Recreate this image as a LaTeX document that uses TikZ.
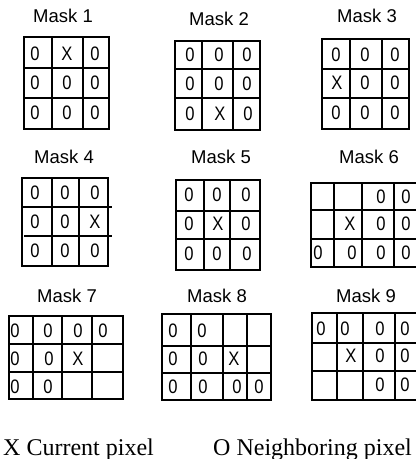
\documentclass[tikz,border=0pt]{standalone}
\usepackage{fontspec}
\setmainfont{Liberation Serif}
\setsansfont{Liberation Sans}
\newfontfamily\cellfont[FakeStretch=0.85]{Liberation Sans}
\tikzset{
  gridline/.style={line width=1.7pt, line cap=rect, draw=black},
  masklabel/.style={font=\sffamily\fontsize{18.5}{18.5}\selectfont, anchor=base, inner sep=0pt},
  cell/.style={font=\cellfont\fontsize{19.5}{19.5}\selectfont, inner sep=0pt},
  legendtext/.style={font=\rmfamily\fontsize{24}{24}\selectfont, anchor=base west, inner sep=0pt}
}
\newcommand\maskgrid[6]{%
  \draw[gridline] (#1,#3) rectangle (#2,#4);
  \foreach \xx in {#5} {\draw[gridline] (\xx,#3) -- (\xx,#4);}
  \foreach \yy in {#6} {\draw[gridline] (#1,\yy) -- (#2,\yy);}
}
\newcommand\cells[2]{%
  \foreach \px/\py/\t [count=\i] in {#2} {\node[cell] (#1c\i) at (\px,\py) {\t};}
}
\begin{document}
\begin{tikzpicture}[x=1pt,y=-1pt]
\useasboundingbox (0,0) rectangle (416,459);
\clip (0,0) rectangle (416,459);
% labels
\node[masklabel] (l1) at (63,22) {Mask 1};
\node[masklabel] (l2) at (219,25) {Mask 2};
\node[masklabel] (l3) at (367,22) {Mask 3};
\node[masklabel] (l4) at (64,163) {Mask 4};
\node[masklabel] (l5) at (221,163) {Mask 5};
\node[masklabel] (l6) at (369,163) {Mask 6};
\node[masklabel] (l7) at (67,302) {Mask 7};
\node[masklabel] (l8) at (217,302) {Mask 8};
\node[masklabel] (l9) at (366,302) {Mask 9};
% Mask 1
\maskgrid{24}{109}{37}{129}{52,83}{68,98}
\cells{m1}{35/54/0,67/54/X,95/54/0,35/83/0,67/83/0,95/83/0,35/113/0,67/113/0,95/113/0}
% Mask 2
\maskgrid{175}{260}{41}{130}{202,233}{69,98}
\cells{m2}{190/55/0,219/55/0,247/55/0,190/84/0,219/84/0,247/84/0,190/114/0,220/114/X,248/114/0}
% Mask 3
\maskgrid{322}{409}{39}{129}{350,382}{69,98}
\cells{m3}{336/55/0,365/55/0,395/55/0,337/83/X,365/83/0,395/83/0,336/113/0,365/113/0,395/113/0}
% Mask 4
\draw[gridline] (22,178) rectangle (108,266);
\draw[gridline] (52,178) -- (52,266);
\draw[gridline] (79,178) -- (79,266);
\draw[gridline] (22,207) -- (111,207);
\draw[gridline] (25,236) -- (111,236);
\cells{m4}{35/193/0,65/193/0,95/193/0,35/222/0,65/222/0,95/222/X,35/251/0,65/251/0,95/251/0}
% Mask 5
\maskgrid{176}{260}{180}{270}{204,230}{211,239}
\cells{m5}{189/195/0,217/195/0,246/195/0,189/224/0,218/224/X,246/224/0,189/254/0,217/254/0,247/254/0}
% Mask 6
\maskgrid{311}{424}{183}{267}{334,362,394}{210,239}
\cells{m6}{381/197/0,406/197/0,350/224/X,381/224/0,406/224/0,318/253/0,352/253/0,381/253/0,406/253/0}
% Mask 7
\maskgrid{9}{123}{316}{399}{33,62,92}{344,372}
\cells{m7}{15/331/0,48/331/0,78/331/0,103/331/0,15/359/0,49/359/0,78/359/X,15/387/0,48/387/0}
% Mask 8
\maskgrid{162}{271}{314}{400}{191,223,247}{346,373}
\cells{m8}{173/331/0,202/331/0,173/359/0,203/359/0,234/359/X,173/387/0,203/387/0,237/387/0,259/387/0}
% Mask 9
\maskgrid{312}{425}{313}{400}{337,363,395}{343,371}
\cells{m9}{321/329/0,345/329/0,380/329/0,405/329/0,351/356/X,380/356/0,405/356/0,380/385/0,405/385/0}
% legend
\node[legendtext] (lx) at (3,455) {X Current pixel};
\node[legendtext] (lo) at (213,455) {O Neighboring pixel};
\end{tikzpicture}
\end{document}
